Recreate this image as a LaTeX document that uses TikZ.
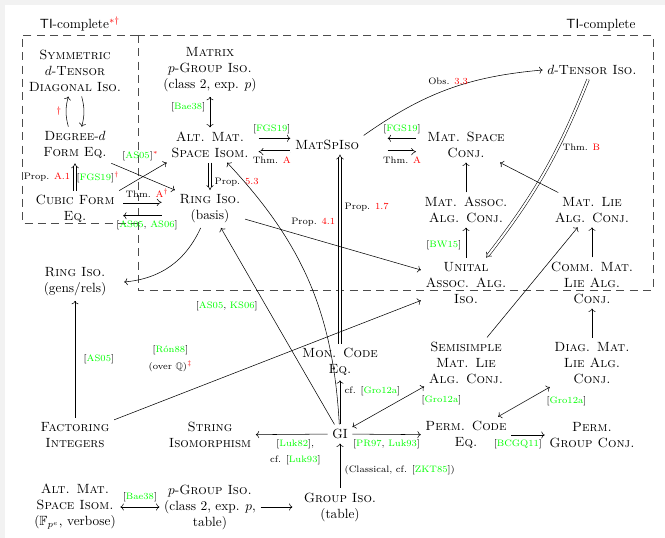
\documentclass[tikz,border=0pt]{standalone}
\usepackage{amssymb}
\usetikzlibrary{arrows.meta,positioning}

\newcommand{\gk}[1]{\textcolor{green}{#1}}
\newcommand{\rk}[1]{\textcolor{red}{#1}}

\begin{document}
\begin{tikzpicture}[x=0.75pt,y=-0.75pt,every node/.style={align=center},
  lab/.style={font=\scriptsize},
  dbl/.style={double,double distance=1.5pt,-{Implies}},
  tibox/.style={draw=black!70,dash pattern=on 6pt off 4pt}]
 \useasboundingbox (0,0) rectangle (665,538);
 \fill[black!5] (0,0) rectangle (665,538);
 \fill[white] (5,5) rectangle (665,538);

 % TI-complete regions
 \draw[tibox] (138,35) rectangle (653,290);
 \draw[tibox] (138,35) -- (22,35) -- (22,223) -- (138,223);
 \node (tileft) at (80,24) {\textsf{TI}-complete\rk{$^{*\dagger}$}};
 \node (tiright) at (601,25) {\textsf{TI}-complete};

 \node (symdiag) at (75,71) {\textsc{Symmetric}\\$d$-\textsc{Tensor}\\\textsc{Diagonal Iso.}};
 \node (degform) at (75,145) {\textsc{Degree}-$d$\\\textsc{Form Eq.}};
 \node (cubic) at (75,209) {\textsc{Cubic Form}\\\textsc{Eq.}};
 \node (matpgrp) at (210,70) {\textsc{Matrix}\\$p$-\textsc{Group Iso.}\\(class 2, exp. $p$)};
 \node (altmat) at (210,145) {\textsc{Alt. Mat.}\\\textsc{Space Isom.}};
 \node (ringbasis) at (210,209) {\textsc{Ring Iso.}\\(basis)};
 \node (matspiso) at (327,145) {\textsc{MatSpIso}};
 \node (matspconj) at (466,145) {\textsc{Mat. Space}\\\textsc{Conj.}};
 \node (dtensor) at (592,70) {$d$-\textsc{Tensor Iso.}};
 \node (matassoc) at (466,210) {\textsc{Mat. Assoc.}\\\textsc{Alg. Conj.}};
 \node (matlie) at (592,210) {\textsc{Mat. Lie}\\\textsc{Alg. Conj.}};
 \node (unital) at (466,283) {\textsc{Unital}\\\textsc{Assoc. Alg.}\\\textsc{Iso.}};
 \node (commlie) at (592,283) {\textsc{Comm. Mat.}\\\textsc{Lie Alg.}\\\textsc{Conj.}};
 \node (ringgens) at (75,282) {\textsc{Ring Iso.}\\(gens/rels)};
 \node (moncode) at (340,362) {\textsc{Mon. Code}\\\textsc{Eq.}};
 \node (semisimple) at (466,363) {\textsc{Semisimple}\\\textsc{Mat. Lie}\\\textsc{Alg. Conj.}};
 \node (diaglie) at (592,363) {\textsc{Diag. Mat.}\\\textsc{Lie Alg.}\\\textsc{Conj.}};
 \node (factoring) at (75,435) {\textsc{Factoring}\\\textsc{Integers}};
 \node (string) at (210,435) {\textsc{String}\\\textsc{Isomorphism}};
 \node (gi) at (340,434) {GI};
 \node (permcode) at (466,435) {\textsc{Perm. Code}\\\textsc{Eq.}};
 \node (permgrp) at (592,435) {\textsc{Perm.}\\\textsc{Group Conj.}};
 \node (altmatfp) at (75,507) {\textsc{Alt. Mat.}\\\textsc{Space Isom.}\\($\mathbb{F}_{p^e}$, verbose)};
 \node (pgrptable) at (210,507) {$p$-\textsc{Group Iso.}\\(class 2, exp. $p$,\\table)};
 \node (grptable) at (340,507) {\textsc{Group Iso.}\\(table)};

 % inside the left box
 \draw[->] ([xshift=-5pt]degform.north) to[bend left=15] node[left,lab]{\rk{$\dagger$}} ([xshift=-5pt]symdiag.south);
 \draw[->] ([xshift=5pt]symdiag.south) to[bend left=15] ([xshift=5pt]degform.north);
 \draw[dbl] (cubic) -- node[left,lab]{Prop. \rk{A.1}} (degform);
 \draw[->] (degform.south east) -- node[pos=.1,above right,lab]{[\gk{AS05}]\rk{$^*$}} (ringbasis.north west);
 \draw[->] (cubic.north east) -- node[pos=.1,above left,lab]{[\gk{FGS19}]\rk{$^\dagger$}} (altmat.south west);
 \draw[dbl,shorten <=3pt,shorten >=10pt] ([yshift=5pt]cubic.east) -- node[above,lab]{Thm. \rk{A$^\dagger$}} ([yshift=5pt]ringbasis.west);
 \draw[->,shorten <=10pt,shorten >=3pt] ([yshift=-5pt]ringbasis.west) -- node[below,lab]{[\gk{AS05}, \gk{AS06}]} ([yshift=-5pt]cubic.east);

 % matrix spaces
 \draw[<->] (matpgrp) -- node[pos=.35,left,lab]{[\gk{Bae38}]} (altmat);
 \draw[dbl] (altmat) -- node[pos=.72,right,lab]{Prop. \rk{5.3}} (ringbasis);
 \draw[->,shorten <=4pt] ([yshift=5pt]altmat.east) -- node[above,lab]{[\gk{FGS19}]} ([yshift=5pt]matspiso.west);
 \draw[dbl,shorten >=4pt] ([yshift=-5pt]matspiso.west) -- node[below,lab]{Thm. \rk{A}} ([yshift=-5pt]altmat.east);
 \draw[->,shorten <=5pt,shorten >=18pt] ([yshift=5pt]matspconj.west) -- node[pos=.35,above,lab]{[\gk{FGS19}]} ([yshift=5pt]matspiso.east);
 \draw[dbl,shorten <=18pt,shorten >=5pt] ([yshift=-5pt]matspiso.east) -- node[pos=.65,below,lab]{Thm. \rk{A}} ([yshift=-5pt]matspconj.west);
 \draw[->] (matspiso.north east) to[bend left=15] node[above,lab]{Obs. \rk{3.3}} (dtensor.west);
 \draw[dbl] (dtensor) to[bend left=8] node[pos=.35,right,lab]{Thm. \rk{B}} (unital);
 \draw[dbl] (moncode) -- node[pos=.72,right,lab]{Prop. \rk{1.7}} (moncode |- matspiso.south);
 \draw[->] (unital) -- node[pos=.4,left,lab]{[\gk{BW15}]} (matassoc);

 \foreach \from/\to in {matassoc/matspconj,matlie/matspconj,commlie/matlie,diaglie/commlie,semisimple/matlie,ringbasis/unital}
 \draw [->] (\from) -- (\to);

 % rings and factoring
 \draw[->] ([xshift=-7pt]ringbasis.south) to[bend left=30] ([xshift=10pt]ringgens.east);
 \draw[->] (factoring) -- node[right=3pt,lab]{[\gk{AS05}]} (ringgens);
 \draw[->] (factoring) -- node[pos=.27,anchor=south east,yshift=8pt,lab]{[\gk{R\'on88}]\\[4pt](over $\mathbb{Q}$)\rk{$^\ddagger$}} (unital);

 % around GI
 \draw[->] (gi) -- node[pos=.6,left=3pt,lab]{[\gk{AS05}, \gk{KS06}]} (ringbasis);
 \draw[->] (gi) to[bend right=20] node[pos=.75,right=8pt,lab]{Prop. \rk{4.1}} (altmat);
 \draw[->] (gi) -- node[pos=.75,right,lab]{cf. [\gk{Gro12a}]} (moncode);
 \draw[<->] (gi) -- node[pos=.9,below right,lab]{[\gk{Gro12a}]} (semisimple);
 \draw[->] (gi) -- node[pos=.45,below,lab]{[\gk{Luk82}],\\[4pt]cf. [\gk{Luk93}]} (string);
 \draw[->] (gi) -- node[below,lab]{[\gk{PR97}, \gk{Luk93}]} (permcode);
 \draw[->] (grptable) -- node[pos=.4,right,lab]{(Classical, cf. [\gk{ZKT85}])} (gi);

 % bottom rows
 \draw[<->] (permcode) -- node[pos=.85,below right,lab]{[\gk{Gro12a}]} (diaglie);
 \draw[->] (permcode) -- node[pos=.2,below,lab]{[\gk{BCGQ11}]} (permgrp);
 \draw[<->] (altmatfp) -- node[above,lab]{[\gk{Bae38}]} (pgrptable);
 \draw[->,shorten >=5pt] (pgrptable) -- (grptable);
\end{tikzpicture}
\end{document}
